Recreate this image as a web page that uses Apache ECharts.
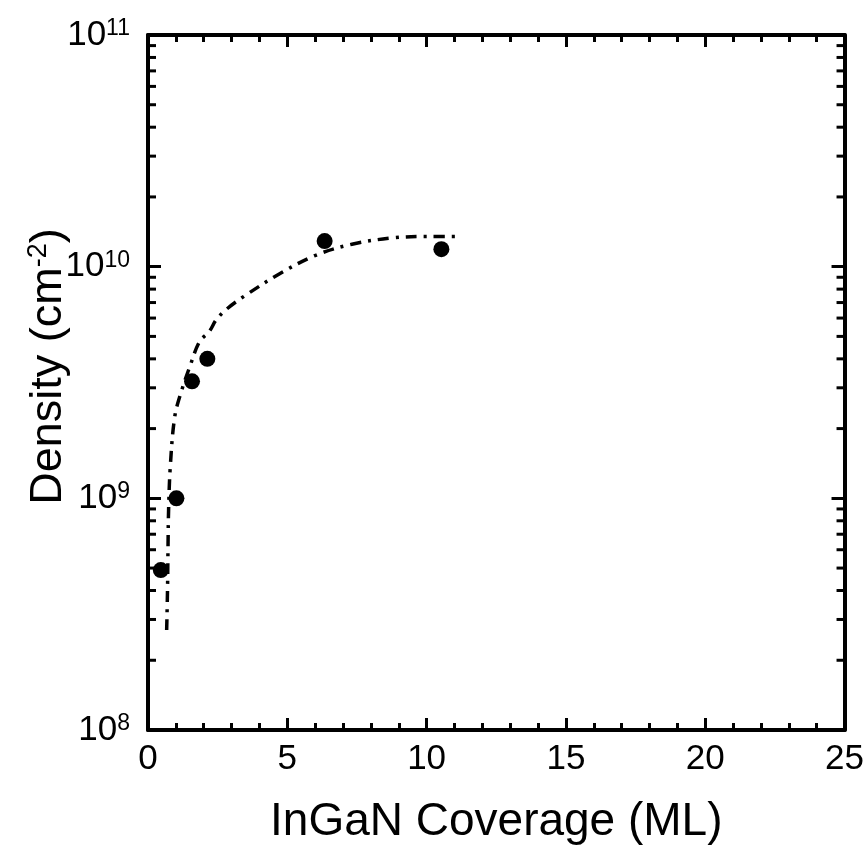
<!DOCTYPE html>
<html>
<head>
<meta charset="utf-8">
<title>InGaN density</title>
<script src="https://cdn.jsdelivr.net/npm/echarts@6/dist/echarts.min.js"></script>
<style>
  html, body { margin: 0; padding: 0; background: #fff; }
  #chart { width: 867px; height: 855px; }
</style>
</head>
<body>
<div id="chart"></div>
<script>
// measured points (coverage in ML, density in cm^-2)
var coverage = [0.46, 1.02, 1.58, 2.13, 6.34, 10.53];
var density = [4.9e8, 1.0e9, 3.2e9, 4.0e9, 1.29e10, 1.19e10];

// dash-dot guide curve
var fitX = [0.67, 0.70, 0.72, 0.74, 0.80, 0.96, 1.20, 1.50, 1.85, 2.20, 2.45, 2.85, 3.52, 4.71, 6.02, 7.32, 8.75, 10.0, 11.2];
var fitY = [2.7e8, 4.0e8, 6.4e8, 9.0e8, 1.37e9, 2.25e9, 2.9e9, 3.7e9, 4.75e9, 5.25e9, 5.9e9, 6.6e9, 7.55e9, 9.3e9, 1.12e10, 1.25e10, 1.33e10, 1.35e10, 1.35e10];

// log minor ticks
var decades = [1e8, 1e9, 1e10];
var mantissas = [2, 3, 4, 5, 6, 7, 8, 9];

var FONT = '"Liberation Sans", Arial, Helvetica, sans-serif';

var pts = coverage.map(function (x, i) { return [x, density[i]]; });
var fit = fitX.map(function (x, i) { return [x, fitY[i]]; });
var minorVals = [];
decades.forEach(function (d) {
  mantissas.forEach(function (m) { minorVals.push([0, m * d]); });
});

function powLabel(v) {
  return '{b|10}{s|' + Math.round(Math.log10(v)) + '}';
}

var dom = document.getElementById('chart');
var myChart = echarts.init(dom, null, { renderer: 'canvas' });

var xCommon = {
  type: 'value',
  min: 0,
  max: 25,
  interval: 5,
  axisLine: { onZero: false, lineStyle: { color: '#000', width: 4 } },
  axisTick: { inside: true, length: 12, lineStyle: { color: '#000', width: 3 } },
  minorTick: { show: true, splitNumber: 5, length: 7, lineStyle: { color: '#000', width: 3 } },
  splitLine: { show: false },
  minorSplitLine: { show: false }
};
var yCommon = {
  type: 'log',
  logBase: 10,
  min: 1e8,
  max: 1e11,
  axisLine: { onZero: false, lineStyle: { color: '#000', width: 4 } },
  axisTick: { inside: true, length: 13, lineStyle: { color: '#000', width: 3 } },
  splitLine: { show: false }
};

option = {
  backgroundColor: '#fff',
  animation: false,
  grid: { left: 148, right: 19, top: 35, bottom: 125, containLabel: false },
  xAxis: [
    Object.assign({}, xCommon, {
      position: 'bottom',
      name: 'InGaN Coverage (ML)',
      nameLocation: 'middle',
      nameGap: 69,
      nameMoveOverlap: false,
      nameTextStyle: { fontFamily: FONT, fontSize: 46, color: '#000' },
      axisLabel: { margin: 12, fontFamily: FONT, fontSize: 35, color: '#000' }
    }),
    Object.assign({}, xCommon, {
      position: 'top',
      axisLabel: { show: false }
    })
  ],
  yAxis: [
    Object.assign({}, yCommon, {
      position: 'left',
      name: '{n|Density (cm}{s|-2}{n|)}',
      nameLocation: 'middle',
      nameGap: 75,
      nameMoveOverlap: false,
      nameRotate: 90,
      nameTextStyle: {
        padding: [0, 0, 0, 32],
        rich: {
          n: { fontFamily: FONT, fontSize: 45, color: '#000', lineHeight: 48 },
          s: { fontFamily: FONT, fontSize: 27, color: '#000', verticalAlign: 'top', lineHeight: 30 }
        }
      },
      axisLabel: {
        margin: 18,
        formatter: powLabel,
        rich: {
          b: { fontFamily: FONT, fontSize: 35, color: '#000', lineHeight: 36 },
          s: { fontFamily: FONT, fontSize: 23, color: '#000', verticalAlign: 'top', lineHeight: 24 }
        }
      }
    }),
    Object.assign({}, yCommon, {
      position: 'right',
      axisLabel: { show: false }
    })
  ],
  series: [
    {
      name: 'fit',
      type: 'line',
      data: fit,
      smooth: 0.35,
      showSymbol: false,
      symbol: 'none',
      lineStyle: { color: '#000', width: 3.5, type: [11, 7, 3, 7], cap: 'butt' },
      z: 2
    },
    {
      name: 'data',
      type: 'scatter',
      data: pts,
      symbol: 'circle',
      symbolSize: 16,
      itemStyle: { color: '#000', opacity: 1 },
      z: 3
    },
    {
      // log-decade minor ticks on left and right frame
      name: 'minorTicks',
      type: 'custom',
      data: minorVals,
      silent: true,
      clip: false,
      renderItem: function (params, api) {
        var cs = params.coordSys;
        var y = api.coord([0, api.value(1)])[1];
        var len = 8;
        var st = { stroke: '#000', lineWidth: 3 };
        return {
          type: 'group',
          children: [
            { type: 'line', shape: { x1: cs.x, y1: y, x2: cs.x + len, y2: y }, style: st },
            { type: 'line', shape: { x1: cs.x + cs.width, y1: y, x2: cs.x + cs.width - len, y2: y }, style: st }
          ]
        };
      },
      z: 1
    }
  ]
};

if (option && typeof option === 'object') {
  myChart.setOption(option, true);
}
</script>
</body>
</html>
